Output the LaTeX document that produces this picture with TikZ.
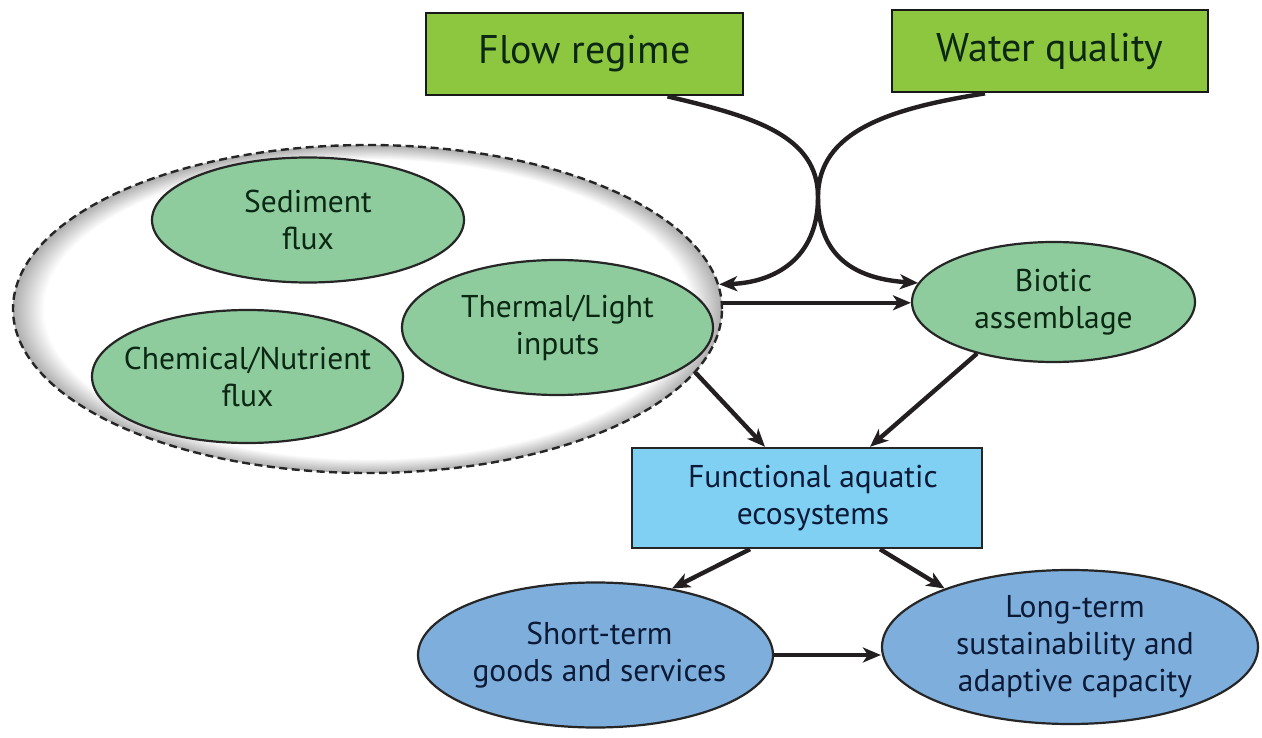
\documentclass[tikz,border=0pt]{standalone}
\usepackage{fontspec}
\setmainfont{PT Sans}
\usetikzlibrary{shapes.geometric,arrows.meta,calc}
\definecolor{boxgreen}{RGB}{141,198,63}
\definecolor{ellgreen}{RGB}{142,204,158}
\definecolor{funcblue}{RGB}{128,208,244}
\definecolor{ellblue}{RGB}{126,174,220}
\definecolor{arrowc}{RGB}{35,31,32}
\definecolor{txtgreen}{RGB}{12,40,20}
\definecolor{txtblue}{RGB}{12,26,54}
\pgfdeclareradialshading{rim}{\pgfpoint{0bp}{0bp}}{color(0bp)=(white); color(22.8bp)=(white); color(25bp)=(black!32); color(50bp)=(black!32)}
\tikzset{
  topbox/.style={draw=black!90, line width=2.8pt, fill=boxgreen, rectangle, inner sep=0pt,
    font=\fontsize{40}{44}\selectfont, text=txtgreen},
  gell/.style={ellipse, draw=black!85, line width=2.2pt, fill=ellgreen, inner sep=0pt},
  bell/.style={ellipse, draw=black!85, line width=2.2pt, fill=ellblue, inner sep=0pt},
  funcbox/.style={rectangle, draw=black!85, line width=2.4pt, fill=funcblue, inner sep=0pt},
  outerell/.style={ellipse, inner sep=0pt, shade, shading=rim, draw=black!85, line width=2.4pt,
    dash pattern=on 8pt off 4.5pt},
  gtxt/.style={align=center, inner sep=0pt, font=\fontsize{31.5}{37}\selectfont, text=txtgreen},
  btxt/.style={align=center, inner sep=0pt, font=\fontsize{31.5}{37}\selectfont, text=txtblue},
  arr/.style={line width=4.4pt, draw=arrowc, -{Stealth[length=18pt,width=15pt,inset=5pt]}}
}
\begin{document}
\begin{tikzpicture}[x=1pt,y=-1pt]
\useasboundingbox (0,0) rectangle (1262,738);
% top boxes
\node[topbox, minimum width=317pt, minimum height=82pt] (flow) at (584.5,54) {Flow regime};
\node[topbox, minimum width=316pt, minimum height=82pt] (water) at (1050,51) {Water quality};
% grouping ellipse
\node[outerell, minimum width=709pt, minimum height=328pt] (outer) at (367.5,309) {};
% green ellipses
\node[gell, minimum width=312pt, minimum height=125pt] (sed) at (308,220) {};
\node[gtxt] (sedT) at (sed) {Sediment\\flux};
\node[gell, minimum width=311pt, minimum height=133pt] (chem) at (247.5,376.5) {};
\node[gtxt] (chemT) at (chem) {Chemical/Nutrient\\flux};
\node[gell, minimum width=311pt, minimum height=135pt] (therm) at (557.5,327.5) {};
\node[gtxt] (thermT) at (therm) {Thermal/Light\\inputs};
\node[gell, minimum width=283pt, minimum height=120pt] (biotic) at (1053.5,302) {};
\node[gtxt] (bioticT) at (biotic) {Biotic\\assemblage};
% functional box
\node[funcbox, minimum width=350pt, minimum height=100pt] (func) at (807,498) {};
\node[btxt] (funcT) at ([xshift=6pt]func.center) {Functional aquatic\\ecosystems};
% blue ellipses
\node[bell, minimum width=355pt, minimum height=145pt] (short) at (595.5,655) {};
\node[btxt] (shortT) at ([xshift=4pt]short.center) {Short-term\\goods and services};
\node[bell, minimum width=376pt, minimum height=154pt] (long) at (1070,647) {};
\node[btxt] (longT) at ([xshift=5pt]long.center) {Long-term\\sustainability and\\adaptive capacity};
% crossing curves
\coordinate (cross) at (818,197);
\draw[arr] ([xshift=83pt]flow.south) .. controls +(85,20) and +(0,-62) .. (cross)
  .. controls +(0,62) and +(-60,-4) .. (biotic.172);
\draw[arr] ([xshift=-65pt]water.south) .. controls +(-95,15) and +(0,-66) .. (cross)
  .. controls +(0,62) and +(55,-2) .. (outer.4);
% straight arrows
\draw[arr] (outer.1) -- (outer.1 -| biotic.west);
\draw[arr] (outer.-11) -- ([xshift=-42pt]func.north);
\draw[arr] (biotic.-146) -- ([xshift=63pt]func.north);
\draw[arr] ([xshift=-57pt]func.south) -- (short.41);
\draw[arr] ([xshift=73pt]func.south) -- (long.155);
\draw[arr] (short.east) -- (short.east -| long.west);
\end{tikzpicture}
\end{document}
